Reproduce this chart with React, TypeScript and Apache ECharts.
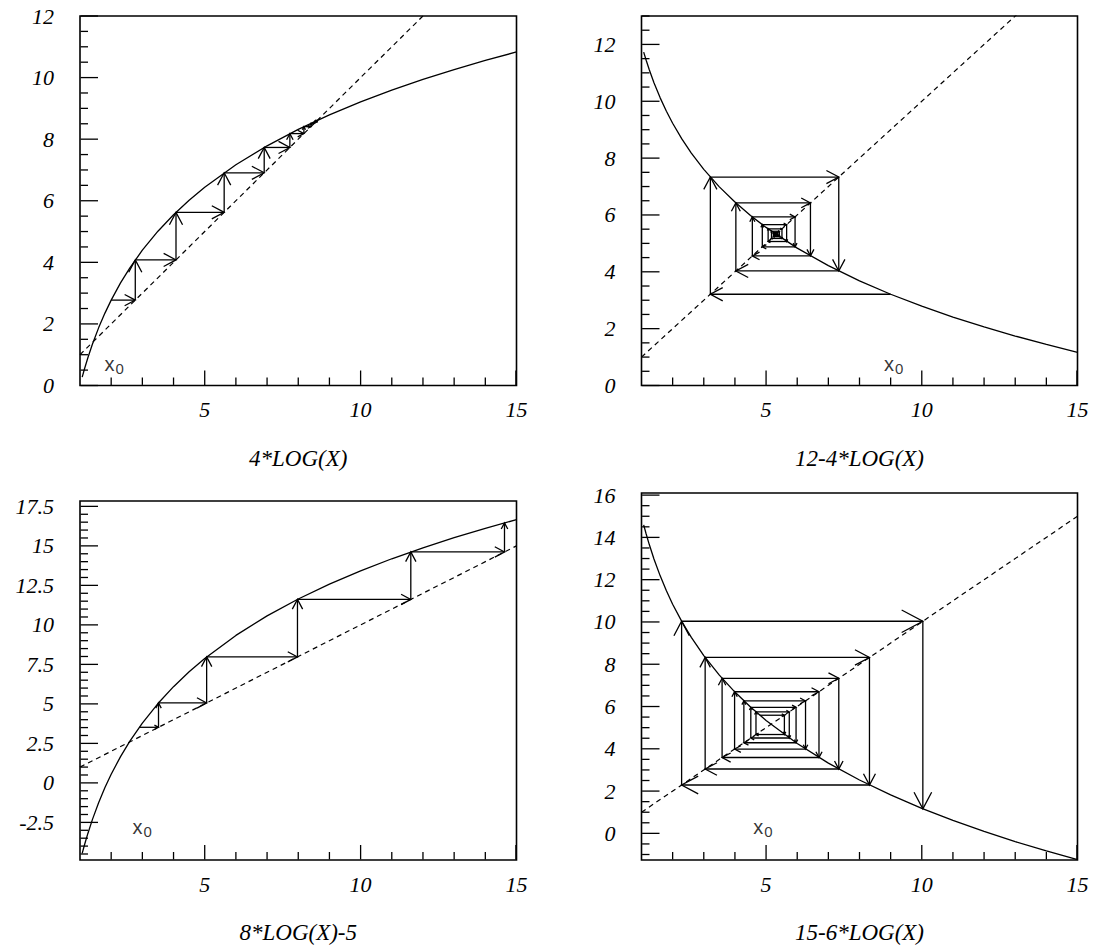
import { useEffect, useRef } from 'react';
import * as echarts from 'echarts';

// ---------- data ----------
const panelTitles = ['4*LOG(X)', '12-4*LOG(X)', '8*LOG(X)-5', '15-6*LOG(X)'];

const curveX = [1.07, 1.15, 1.25, 1.4, 1.6, 1.8, 2, 2.3, 2.6, 3, 3.5, 4, 4.5, 5, 6, 7, 8, 9, 10, 11, 12, 13, 14, 15];
const curve1 = [0.271, 0.559, 0.893, 1.346, 1.88, 2.351, 2.773, 3.332, 3.822, 4.394, 5.011, 5.545, 6.016, 6.438, 7.167, 7.784, 8.318, 8.789, 9.21, 9.592, 9.94, 10.26, 10.556, 10.832];
const curve2 = [11.729, 11.441, 11.107, 10.654, 10.12, 9.649, 9.227, 8.668, 8.178, 7.606, 6.989, 6.455, 5.984, 5.562, 4.833, 4.216, 3.682, 3.211, 2.79, 2.408, 2.06, 1.74, 1.444, 1.168];
const curve3 = [-4.458, -3.882, -3.214, -2.308, -1.24, -0.298, 0.546, 1.664, 2.644, 3.788, 5.022, 6.09, 7.032, 7.876, 9.334, 10.568, 11.636, 12.578, 13.42, 14.184, 14.88, 15.52, 16.112, 16.664];
const curve4 = [14.594, 14.162, 13.661, 12.981, 12.18, 11.474, 10.841, 10.002, 9.267, 8.409, 7.484, 6.683, 5.976, 5.343, 4.25, 3.324, 2.523, 1.817, 1.185, 0.612, 0.09, -0.39, -0.834, -1.248];

const diagX = [1, 15];

// iterates x0, f(x0), f(f(x0)), ...
const iter1 = [2, 2.773, 4.079, 5.624, 6.908, 7.731, 8.181, 8.407, 8.516, 8.568, 8.592, 8.603];
const iter2 = [9, 3.211, 7.334, 4.03, 6.425, 4.559, 5.931, 4.879, 5.66, 5.066, 5.51, 5.174, 5.426, 5.236, 5.378, 5.271, 5.351];
const iter3 = [2.9, 3.518, 5.062, 7.975, 11.61, 14.615, 16.456];
const iter4 = [4.8, 5.588, 4.676, 5.745, 4.51, 5.963, 4.287, 6.267, 3.989, 6.699, 3.588, 7.335, 3.044, 8.32, 2.288, 10.034, 1.164];

const xRange = [1, 15];
const xMajorTicks = [5, 10, 15];
const xMinorTicks = [2, 3, 4, 6, 7, 8, 9, 11, 12, 13, 14];

const yRange1 = [0, 12];
const yRange2 = [0, 13];
const yRange3 = [-4.88, 17.84];
const yRange4 = [-1.26, 16.1];

const yMajor1 = [0, 2, 4, 6, 8, 10, 12];
const yMajor2 = [0, 2, 4, 6, 8, 10, 12];
const yMajor3 = [-2.5, 0, 2.5, 5, 7.5, 10, 12.5, 15, 17.5];
const yMajor4 = [0, 2, 4, 6, 8, 10, 12, 14, 16];
const yMinorStep = 0.5;

// ---------- layout / style ----------
const grids = [
  { left: 80, top: 16, width: 436.5, height: 369.5 },
  { left: 641.5, top: 16, width: 436, height: 369.5 },
  { left: 80, top: 501, width: 436.5, height: 359 },
  { left: 641.5, top: 493, width: 436, height: 367 },
];
const labelDy = [-20, -20, -31, -31];
const heads = [
  { frac: 0.5, max: 14, min: 2 },
  { frac: 0.14, max: 14, min: 1.5 },
  { frac: 0.24, max: 11, min: 3 },
  { frac: 0.1, max: 24, min: 3 },
];
const noHead = { frac: 0, max: 0, min: 0 };
const X_MAJOR_LEN = 15;
const Y_MAJOR_LEN = 18;
const MINOR_LEN = 8;
const TICK_INSET = 0.6;

const SERIF = "'Liberation Serif', 'Times New Roman', serif";
const SANS = "'Liberation Sans', Arial, sans-serif";

const yRanges = [yRange1, yRange2, yRange3, yRange4];
const yMajors = [yMajor1, yMajor2, yMajor3, yMajor4];

function minorTicks(range: number[], majors: number[]) {
  const out: number[] = [];
  const start = Math.ceil(range[0] / yMinorStep) * yMinorStep;
  for (let v = start; v <= range[1] + 1e-9; v += yMinorStep) {
    const r = Math.round(v * 100) / 100;
    if (!majors.some((m) => Math.abs(m - r) < 1e-6)) out.push(r);
  }
  return out;
}

function cobweb(it: number[]) {
  const pts: number[][] = [];
  for (let i = 0; i < it.length - 1; i++) {
    pts.push([it[i], it[i + 1]]);
    if (i < it.length - 2) pts.push([it[i + 1], it[i + 1]]);
  }
  const segs: number[][] = [];
  for (let k = 0; k < pts.length - 1; k++) segs.push([pts[k][0], pts[k][1], pts[k + 1][0], pts[k + 1][1]]);
  return segs;
}

// tick segments in data space [x1, y1, x2, y2]; pixel lengths converted through the panel's scale
function tickSegments(i: number) {
  const g = grids[i];
  const yr = yRanges[i];
  const yPerPx = (yr[1] - yr[0]) / g.height;
  const xPerPx = (xRange[1] - xRange[0]) / g.width;
  const inY = yr[0] + TICK_INSET * yPerPx;
  const inX = xRange[0] + TICK_INSET * xPerPx;
  const xMaxIn = xRange[1] - TICK_INSET * xPerPx;
  const segs: number[][] = [];
  xMajorTicks.forEach((v) => {
    const vx = Math.min(v, xMaxIn);
    segs.push([vx, inY, vx, yr[0] + X_MAJOR_LEN * yPerPx]);
  });
  xMinorTicks.forEach((v) => segs.push([v, inY, v, yr[0] + MINOR_LEN * yPerPx]));
  yMajors[i].forEach((v) => segs.push([inX, v, xRange[0] + Y_MAJOR_LEN * xPerPx, v]));
  minorTicks(yr, yMajors[i]).forEach((v) => segs.push([inX, v, xRange[0] + MINOR_LEN * xPerPx, v]));
  return segs;
}

function arrowRenderer(h: { frac: number; max: number; min: number }) {
  return (_params: any, api: any) => {
    const p1 = api.coord([api.value(0), api.value(1)]);
    const p2 = api.coord([api.value(2), api.value(3)]);
    const dx = p2[0] - p1[0];
    const dy = p2[1] - p1[1];
    const L = Math.hypot(dx, dy) || 1;
    const children: any[] = [
      { type: 'line', shape: { x1: p1[0], y1: p1[1], x2: p2[0], y2: p2[1] }, style: { stroke: '#000', lineWidth: 1.3 } },
    ];
    if (h.max > 0) {
      const hl = Math.max(h.min, Math.min(h.max, h.frac * L));
      const bx = -dx / L;
      const by = -dy / L;
      const ang = (28 * Math.PI) / 180;
      const c = Math.cos(ang);
      const s = Math.sin(ang);
      const a1 = [p2[0] + hl * (bx * c - by * s), p2[1] + hl * (bx * s + by * c)];
      const a2 = [p2[0] + hl * (bx * c + by * s), p2[1] + hl * (-bx * s + by * c)];
      children.push({ type: 'polyline', shape: { points: [a1, p2, a2] }, style: { stroke: '#000', fill: null, lineWidth: 1.3 } });
    }
    return { type: 'group', children };
  };
}

function buildOption() {
  const curves = [curve1, curve2, curve3, curve4];
  const iters = [iter1, iter2, iter3, iter4];

  const xAxis: any[] = [];
  const yAxis: any[] = [];
  const series: any[] = [];
  const graphic: any[] = [];
  const noLine = { show: false, onZero: false };

  grids.forEach((g, i) => {
    const labelFont = { fontFamily: SERIF, fontStyle: 'italic', fontSize: 22, color: '#000' };
    xAxis.push({
      gridIndex: i, type: 'value', min: xRange[0], max: xRange[1], position: 'bottom',
      axisLine: noLine, splitLine: { show: false }, axisTick: { show: false },
      axisLabel: { show: true, customValues: xMajorTicks, margin: 13, ...labelFont },
    });
    yAxis.push({
      gridIndex: i, type: 'value', min: yRanges[i][0], max: yRanges[i][1], position: 'left',
      axisLine: noLine, splitLine: { show: false }, axisTick: { show: false },
      axisLabel: { show: true, customValues: yMajors[i], margin: 26, ...labelFont },
    });

    series.push({
      type: 'line', xAxisIndex: i, yAxisIndex: i, symbol: 'none', smooth: false, clip: true,
      lineStyle: { color: '#000', width: 1.3 },
      data: curveX.map((x, k) => [x, curves[i][k]]),
    });
    series.push({
      type: 'line', xAxisIndex: i, yAxisIndex: i, symbol: 'none', clip: true,
      lineStyle: { color: '#000', width: 1.2, type: [5, 4] },
      data: diagX.map((x) => [x, x]),
    });
    series.push({
      type: 'custom', xAxisIndex: i, yAxisIndex: i, clip: false,
      renderItem: arrowRenderer(heads[i]),
      encode: { x: [0, 2], y: [1, 3] },
      data: cobweb(iters[i]),
    });
    series.push({
      type: 'custom', xAxisIndex: i, yAxisIndex: i, clip: false,
      renderItem: arrowRenderer(noHead),
      encode: { x: [0, 2], y: [1, 3] },
      data: tickSegments(i),
    });
    series.push({
      type: 'scatter', xAxisIndex: i, yAxisIndex: i, clip: false, symbolSize: 1,
      itemStyle: { color: 'rgba(0,0,0,0)' },
      label: {
        show: true, position: 'inside', offset: [3, labelDy[i]], color: '#000', textBorderWidth: 0,
        formatter: '{x|x}{s|0}',
        rich: {
          x: { fontFamily: SANS, fontSize: 20, color: '#000', padding: [0, 0, 4, 0] },
          s: { fontFamily: SANS, fontSize: 15, color: '#000', padding: [5, 0, 0, 1] },
        },
      },
      data: [[iters[i][0], yRanges[i][0]]],
    });

    graphic.push({
      type: 'text',
      x: g.left + g.width / 2,
      y: g.top + g.height + 72.5,
      style: {
        text: panelTitles[i],
        fontFamily: SERIF, fontStyle: 'italic', fontSize: 23, fill: '#000',
        align: 'center', verticalAlign: 'middle',
        textAlign: 'center', textVerticalAlign: 'middle',
      },
    });
  });

  return {
    animation: false,
    backgroundColor: '#fff',
    grid: grids.map((g) => ({ ...g, show: true, borderColor: '#000', borderWidth: 1.6, backgroundColor: 'transparent', containLabel: false })),
    xAxis,
    yAxis,
    series,
    graphic,
  };
}

export default function App() {
  const ref = useRef<HTMLDivElement | null>(null);
  useEffect(() => {
    document.body.style.margin = '0';
    if (!ref.current) return;
    const chart = echarts.init(ref.current, undefined, { renderer: 'svg' });
    chart.setOption(buildOption() as any);
    return () => chart.dispose();
  }, []);
  return <div ref={ref} style={{ width: 1096, height: 947, background: '#fff' }} />;
}
